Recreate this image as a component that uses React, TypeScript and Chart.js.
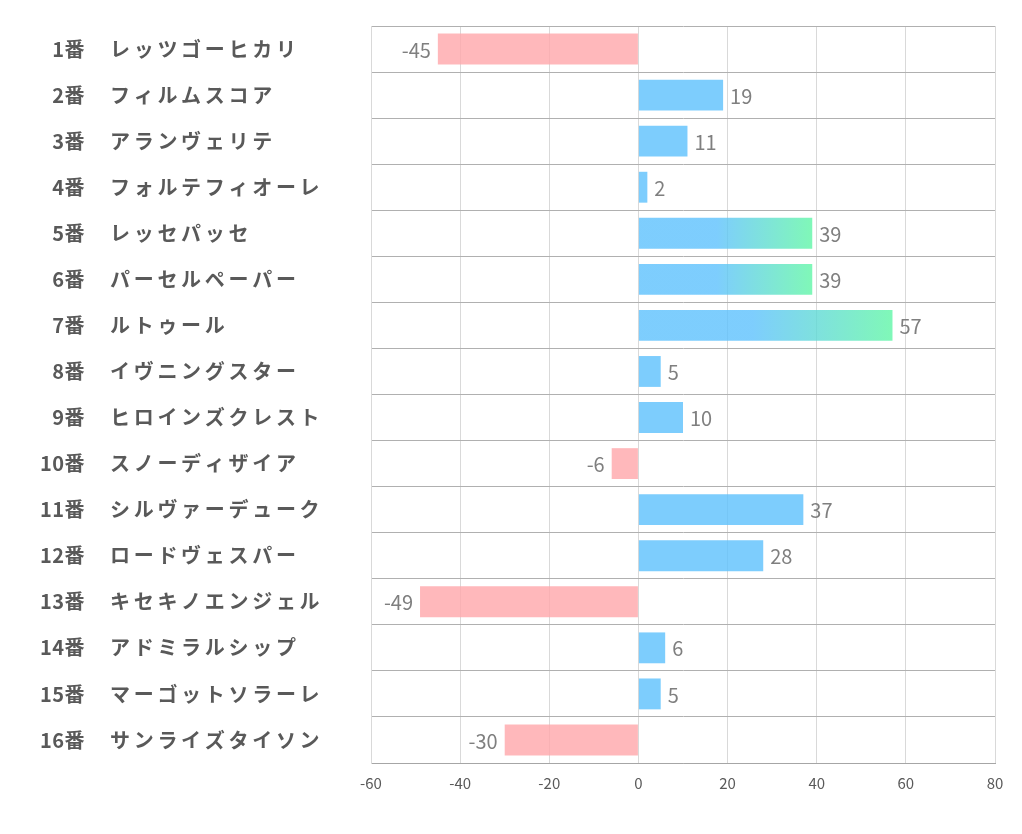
import React, { useEffect, useRef } from "react";
import { Chart, registerables } from "chart.js";

Chart.register(...registerables);

const horseNumbers = ["1番", "2番", "3番", "4番", "5番", "6番", "7番", "8番", "9番", "10番", "11番", "12番", "13番", "14番", "15番", "16番"];
const horseNames = [
  "レッツゴーヒカリ",
  "フィルムスコア",
  "アランヴェリテ",
  "フォルテフィオーレ",
  "レッセパッセ",
  "パーセルペーパー",
  "ルトゥール",
  "イヴニングスター",
  "ヒロインズクレスト",
  "スノーディザイア",
  "シルヴァーデューク",
  "ロードヴェスパー",
  "キセキノエンジェル",
  "アドミラルシップ",
  "マーゴットソラーレ",
  "サンライズタイソン",
];
const scores = [-45, 19, 11, 2, 39, 39, 57, 5, 10, -6, 37, 28, -49, 6, 5, -30];
const highlighted = [4, 5, 6];
const xTicks = [-60, -40, -20, 0, 20, 40, 60, 80];

const BLUE = "rgba(93,193,253,0.8)";
const GREEN = "rgba(96,246,166,0.8)";
const PINK = "rgba(255,166,170,0.8)";
const FONT = "'Noto Sans CJK JP', 'Noto Sans', sans-serif";

export default function App() {
  const ref = useRef<HTMLCanvasElement | null>(null);

  useEffect(() => {
    const canvas = ref.current;
    if (!canvas) return;

    const labelPlugin = {
      id: "rowLabels",
      afterDraw(chart: any) {
        const ctx = chart.ctx;
        const ys = chart.scales.y;
        ctx.save();
        ctx.fillStyle = "#595959";
        ctx.textBaseline = "middle";
        horseNumbers.forEach((num, i) => {
          const y = ys.getPixelForValue(i);
          ctx.font = `bold 20px ${FONT}`;
          ctx.textAlign = "right";
          (ctx as any).letterSpacing = "0.5px";
          ctx.fillText(num, 85, y);
          ctx.textAlign = "left";
          (ctx as any).letterSpacing = "3.7px";
          ctx.fillText(horseNames[i], 110, y);
        });
        (ctx as any).letterSpacing = "0px";
        ctx.restore();
      },
    };

    const valuePlugin = {
      id: "valueLabels",
      afterDatasetsDraw(chart: any) {
        const ctx = chart.ctx;
        const meta = chart.getDatasetMeta(0);
        ctx.save();
        ctx.font = `20px ${FONT}`;
        ctx.fillStyle = "#7f7f7f";
        ctx.textBaseline = "middle";
        meta.data.forEach((bar: any, i: number) => {
          const v = scores[i];
          if (v >= 0) {
            ctx.textAlign = "left";
            ctx.fillText(String(v), bar.x + 7, bar.y + 1);
          } else {
            ctx.textAlign = "right";
            ctx.fillText(String(v), bar.x - 7, bar.y + 1);
          }
        });
        ctx.restore();
      },
    };

    const chart = new Chart(canvas, {
      type: "bar",
      data: {
        labels: horseNumbers,
        datasets: [
          {
            data: scores,
            backgroundColor: (c: any) => {
              const i = c.dataIndex;
              const v = scores[i];
              if (v < 0) return PINK;
              if (highlighted.includes(i) && c.chart.scales && c.chart.scales.x) {
                const xs = c.chart.scales.x;
                const x0 = xs.getPixelForValue(0);
                const x1 = xs.getPixelForValue(v);
                const g = c.chart.ctx.createLinearGradient(x0, 0, x1, 0);
                g.addColorStop(0, BLUE);
                g.addColorStop(0.45, BLUE);
                g.addColorStop(1, GREEN);
                return g;
              }
              return BLUE;
            },
            borderWidth: 0,
            barPercentage: 0.67,
            categoryPercentage: 1,
          },
        ],
      },
      options: {
        indexAxis: "y",
        responsive: false,
        animation: false,
        layout: { padding: { left: 0, right: 27, top: 26, bottom: 0 } },
        plugins: { legend: { display: false }, tooltip: { enabled: false } },
        scales: {
          x: {
            min: -60,
            max: 80,
            afterBuildTicks: (s: any) => {
              s.ticks = xTicks.map((v) => ({ value: v }));
            },
            afterFit: (s: any) => {
              s.height = 71;
            },
            grid: { color: "#d9d9d9", drawTicks: false },
            border: { color: "#a6a6a6", width: 1 },
            ticks: {
              color: "#595959",
              font: { size: 15, family: FONT },
              padding: 11,
              maxRotation: 0,
            },
          },
          y: {
            afterFit: (s: any) => {
              s.width = 371;
            },
            grid: { color: "#b0b0b0", drawTicks: false },
            border: { color: "#d9d9d9", width: 1 },
            ticks: { display: false },
          },
        },
      },
      plugins: [labelPlugin, valuePlugin],
    } as any);

    return () => chart.destroy();
  }, []);

  return (
    <div style={{ position: "absolute", left: 0, top: 0, width: 1022, height: 834, background: "#fff" }}>
      <canvas ref={ref} width={1022} height={834} />
    </div>
  );
}
